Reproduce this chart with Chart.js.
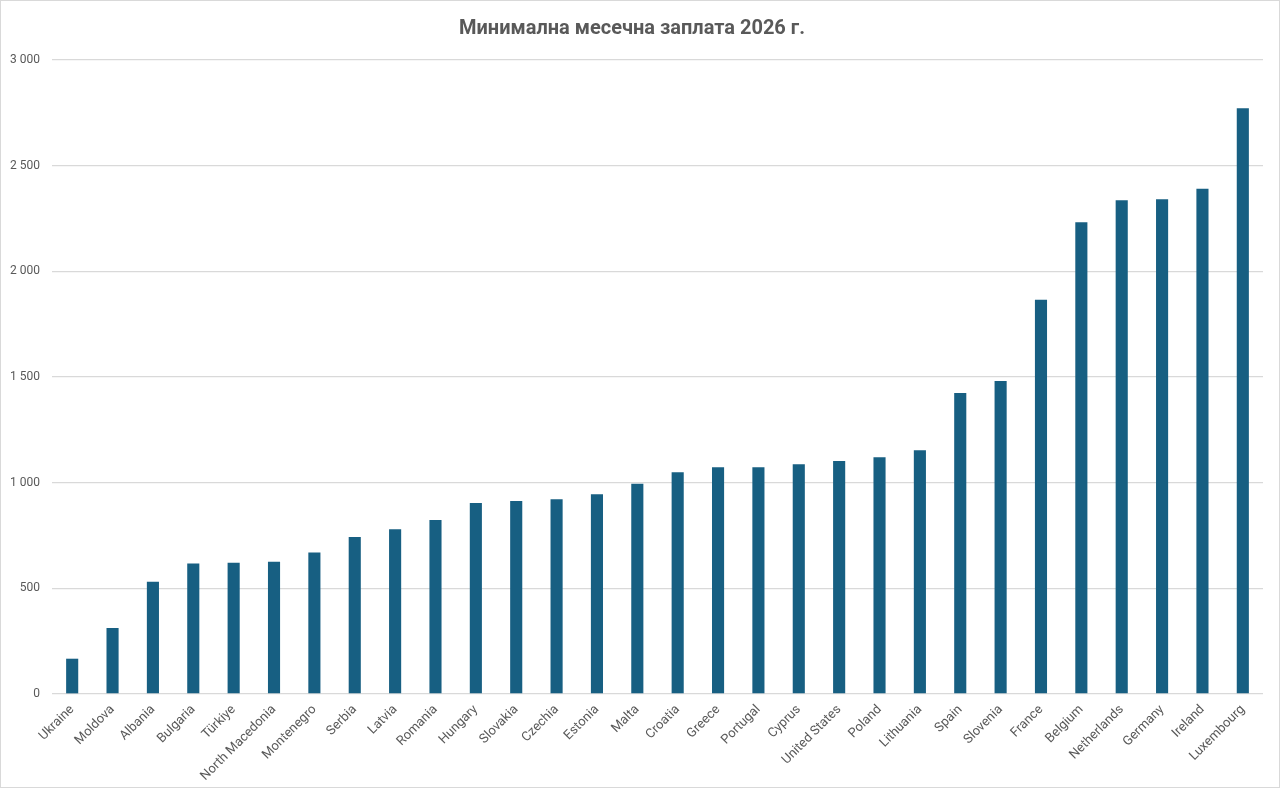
<!DOCTYPE html>
<html>
<head>
<meta charset="utf-8">
<script src="https://cdn.jsdelivr.net/npm/chart.js@4/dist/chart.umd.min.js"></script>
<style>
  html, body { margin: 0; padding: 0; background: #fff; }
  #wrap { position: relative; width: 1280px; height: 788px; box-sizing: border-box; border: 1px solid #d9d9d9; }
  #chart { display: block; }
</style>
</head>
<body>
<div id="wrap"><canvas id="chart" width="1278" height="786"></canvas></div>
<script>
// Categories (countries), sorted ascending
const countries = [
  'Ukraine', 'Moldova', 'Albania', 'Bulgaria', 'Türkiye', 'North Macedonia',
  'Montenegro', 'Serbia', 'Latvia', 'Romania', 'Hungary', 'Slovakia',
  'Czechia', 'Estonia', 'Malta', 'Croatia', 'Greece', 'Portugal', 'Cyprus',
  'United States', 'Poland', 'Lithuania', 'Spain', 'Slovenia', 'France',
  'Belgium', 'Netherlands', 'Germany', 'Ireland', 'Luxembourg'
];

// Minimum monthly wage values
const wages = [
  167, 312, 531, 618, 621, 626,
  669, 743, 779, 823, 904, 913,
  921, 945, 995, 1049, 1073, 1073, 1087,
  1103, 1120, 1153, 1424, 1481, 1865,
  2232, 2336, 2341, 2391, 2772
];

const yTicks = [0, 500, 1000, 1500, 2000, 2500, 3000];

const chartTitle = 'Минимална месечна заплата 2026 г.';

const textColor = '#595959';
const gridColor = '#d9d9d9';
const barColor = '#175f82';
const fontFamily = 'Roboto, "Noto Sans", sans-serif';

// Format numbers with a space as thousands separator
function formatThousands(v) {
  return String(v).replace(/\B(?=(\d{3})+(?!\d))/g, ' ');
}

const ctx = document.getElementById('chart').getContext('2d');

new Chart(ctx, {
  type: 'bar',
  data: {
    labels: countries,
    datasets: [{
      label: chartTitle,
      data: wages,
      backgroundColor: barColor,
      borderWidth: 0,
      barPercentage: 0.3,
      categoryPercentage: 1
    }]
  },
  options: {
    responsive: false,
    animation: false,
    layout: {
      padding: { left: 0, right: 16, top: 0, bottom: 0 }
    },
    plugins: {
      legend: { display: false },
      tooltip: { enabled: false },
      title: {
        display: true,
        text: chartTitle,
        color: textColor,
        font: { family: fontFamily, size: 20, weight: 'bold' },
        padding: { top: 16, bottom: 19 }
      }
    },
    scales: {
      x: {
        grid: { display: false, drawTicks: false },
        border: { display: false },
        ticks: {
          color: textColor,
          font: { family: fontFamily, size: 13 },
          minRotation: 45,
          maxRotation: 45,
          autoSkip: false,
          padding: 8
        },
        afterFit(axis) {
          axis.height = 93;
        }
      },
      y: {
        min: 0,
        max: 3000,
        afterBuildTicks(axis) {
          axis.ticks = yTicks.map(v => ({ value: v }));
        },
        grid: {
          color: gridColor,
          lineWidth: 1.3,
          drawTicks: false
        },
        border: { display: false },
        ticks: {
          color: textColor,
          font: { family: fontFamily, size: 12 },
          padding: 12,
          callback: v => formatThousands(v)
        },
        afterFit(axis) {
          axis.width = 51;
        }
      }
    }
  }
});
</script>
</body>
</html>
